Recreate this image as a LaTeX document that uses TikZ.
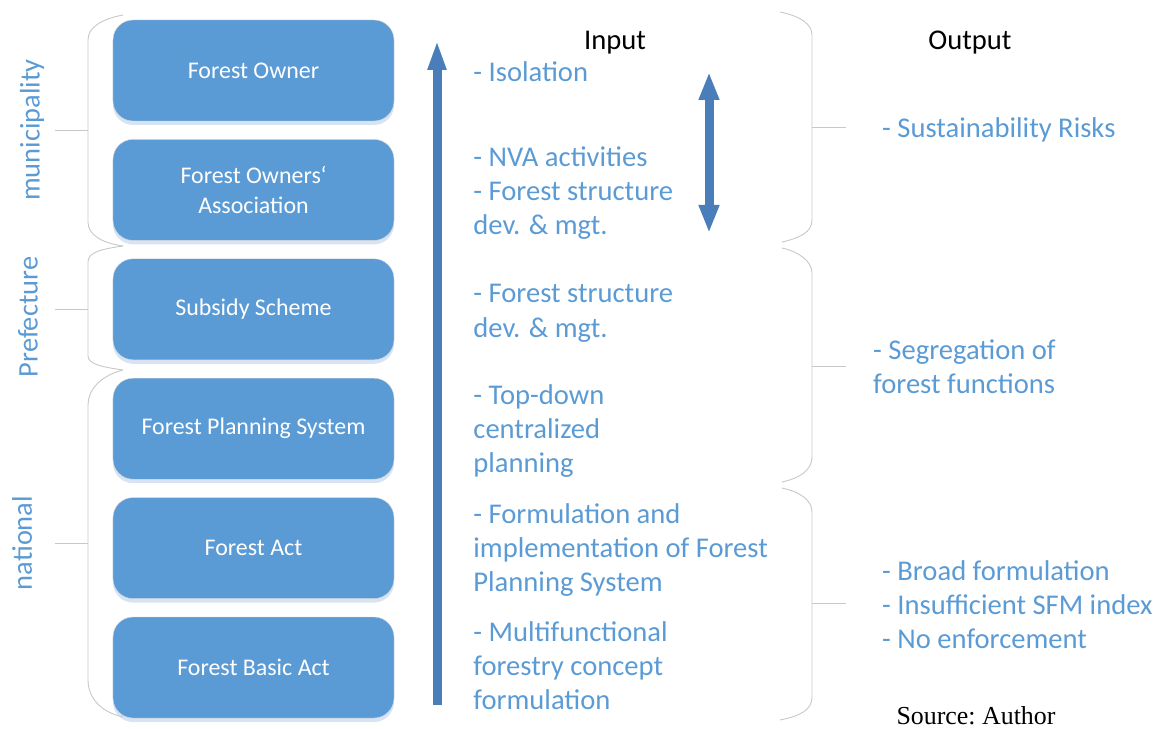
\documentclass[tikz,border=0pt]{standalone}
\usepackage{fontspec}
\setmainfont{Carlito}
\newfontfamily\srcfont{Liberation Serif}
\usepackage{tikz}
\usetikzlibrary{arrows.meta,positioning,shadows}
\definecolor{boxblue}{HTML}{5B9BD5}
\definecolor{shadeblue}{HTML}{D6E4F3}
\definecolor{arrowblue}{HTML}{4A7EBB}
\definecolor{txtblue}{HTML}{5B9BD5}
\definecolor{bracegray}{HTML}{C8C8C8}

\begin{document}
\begin{tikzpicture}[
    x=1bp, y=-1bp,
    node distance=18bp,
    box/.style={draw=black!15, fill=boxblue, rounded corners=20bp, text=white,
                align=center, font=\fontsize{24}{29.5}\selectfont,
                minimum width=281bp, minimum height=101bp,
                drop shadow={shadow xshift=0bp, shadow yshift=-4bp, fill=shadeblue, opacity=1}},
    intext/.style={inner sep=0pt, align=left, text=txtblue,
                   font=\fontsize{28.7}{34.3}\selectfont},
    head/.style={inner sep=0pt, font=\fontsize{28.7}{34.3}\selectfont},
    level/.style={inner sep=0pt, rotate=90, text=txtblue,
                  font=\fontsize{28.5}{34}\selectfont},
    brace/.style={draw=bracegray, line width=0.9bp},
    bigarr/.style={draw=arrowblue, line width=9bp,
                   -{Triangle[width=17bp,length=30bp]}},
    dblarr/.style={draw=arrowblue, line width=9bp,
                   {Triangle[width=19bp,length=28bp]}-{Triangle[width=19bp,length=28bp]}}
  ]
  \useasboundingbox (0,0) rectangle (1162,729);

  % boxes
  \node[box] (owner) at (253.5,70.5) {Forest Owner};
  \node[box, below=of owner] (assoc) {Forest Owners‘\\Association};
  \node[box, below=of assoc] (subsidy) {Subsidy Scheme};
  \node[box, below=of subsidy] (fps) {Forest Planning System};
  \node[box, below=of fps] (act) {Forest Act};
  \node[box, below=of act] (basic) {Forest Basic Act};

  % levels
  \node[level] (mun) at (32,130) {municipality};
  \node[level] (pref) at (28,317) {Prefecture};
  \node[level] (nat) at (22,543) {national};
  \draw[brace] (123,15) .. controls (102,19) and (88,27) .. (88,40) -- (88,222)
               .. controls (88,235) and (102,243) .. (123,246);
  \draw[brace] (123,246) .. controls (102,249) and (88,252) .. (88,262) -- (88,356)
               .. controls (88,364) and (102,367) .. (123,370);
  \draw[brace] (123,370) .. controls (100,376) and (88,390) .. (88,405) -- (88,680)
               .. controls (88,697) and (100,712) .. (123,717);
  \draw[brace] (55,130) -- (88,130);
  \draw[brace] (55,309) -- (88,309);
  \draw[brace] (55,543) -- (88,543);

  % input
  \node[head] (input) at (615,43) {Input};
  \node[intext, right=79bp of owner, yshift=-1.5bp] (iso) {- Isolation};
  \node[intext, right=79bp of assoc, yshift=-3bp] (nva) {- NVA activities\\- Forest structure\\dev. \& mgt.};
  \node[intext, right=79bp of subsidy, yshift=-4bp] (struct) {- Forest structure\\dev. \& mgt.};
  \node[intext, right=79bp of fps, yshift=-2.5bp] (topdown) {- Top-down\\centralized\\planning};
  \node[intext, right=79bp of act, yshift=-2bp] (formul) {- Formulation and\\implementation of Forest\\Planning System};
  \node[intext, right=79bp of basic, yshift=1.5bp] (multi) {- Multifunctional\\forestry concept\\formulation};

  \coordinate (upbot) at (437,705);
  \coordinate (uptop) at (437,40);
  \draw[bigarr] (upbot) -- (uptop);
  \coordinate (dbot) at (709,233);
  \coordinate (dtop) at (709,72);
  \draw[dblarr] (dbot) -- (dtop);

  % output
  \node[head] (output) at (970,43) {Output};
  \draw[brace] (780,12) .. controls (800,16) and (812,24) .. (812,35) -- (812,220)
               .. controls (812,232) and (800,238) .. (782,242);
  \draw[brace] (782,248) .. controls (800,252) and (812,262) .. (812,273) -- (812,457)
               .. controls (812,470) and (800,478) .. (782,482);
  \draw[brace] (782,488) .. controls (800,492) and (812,500) .. (812,512) -- (812,697)
               .. controls (812,710) and (800,716) .. (780,720);
  \coordinate (r1) at (846,127);
  \coordinate (r2) at (846,366);
  \coordinate (r3) at (846,603);
  \draw[brace] (812,127) -- (r1);
  \draw[brace] (812,366) -- (r2);
  \draw[brace] (812,603) -- (r3);
  \node[intext, right=36bp of r1, yshift=-3bp] (risk) {- Sustainability Risks};
  \node[intext, right=27bp of r2, yshift=-1bp] (segr) {- Segregation of\\forest functions};
  \node[intext, right=36bp of r3, yshift=-2bp] (broad) {- Broad formulation\\- Insufficient SFM index\\- No enforcement};

  \node[inner sep=0pt, font=\srcfont\fontsize{26}{30}\selectfont] (src) at (976,716) {\frenchspacing Source: Author};
\end{tikzpicture}
\end{document}
